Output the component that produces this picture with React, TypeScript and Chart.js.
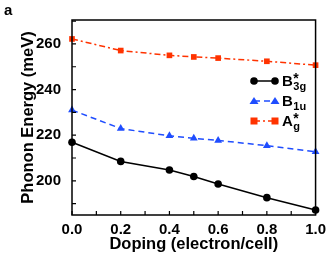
import React, { useEffect, useRef } from "react";
import { Chart, registerables } from "chart.js";
Chart.register(...registerables);

const doping = [0.0, 0.2, 0.4, 0.5, 0.6, 0.8, 1.0];
const b3g = [216.9, 208.5, 204.7, 201.9, 198.6, 192.6, 187.2];
const b1u = [231.0, 222.9, 219.7, 218.6, 217.7, 215.4, 212.7];
const ag = [262.2, 257.1, 255.0, 254.3, 253.8, 252.4, 250.7];

const xTicks = [0, 0.1, 0.2, 0.3, 0.4, 0.5, 0.6, 0.7, 0.8, 0.9, 1.0];
const yTicks = [190, 200, 210, 220, 230, 240, 250, 260, 270];
const yLabels = [200, 220, 240, 260];
const xLabels = [0, 0.2, 0.4, 0.6, 0.8, 1.0];

const FONT = "'Liberation Sans', Arial, sans-serif";
const BLACK = "#000000";
const BLUE = "#1f4dff";
const RED = "#ff3300";

const legendItems = [
  { base: "B", sub: "3g", star: true, color: BLACK, point: "circle", dash: [] as number[] },
  { base: "B", sub: "1u", star: false, color: BLUE, point: "triangle", dash: [6, 4] },
  { base: "A", sub: "g", star: true, color: RED, point: "rect", dash: [6, 3, 2, 3] },
];

const framePlugin = {
  id: "frame",
  afterDraw(chart: any) {
    const { ctx, chartArea: a, scales } = chart;
    ctx.save();
    ctx.strokeStyle = "#000";
    ctx.lineWidth = 1.5;
    ctx.strokeRect(a.left, a.top, a.right - a.left, a.bottom - a.top);
    ctx.lineWidth = 1.2;
    ctx.beginPath();
    for (const v of xTicks) {
      const x = scales.x.getPixelForValue(v);
      ctx.moveTo(x, a.bottom);
      ctx.lineTo(x, a.bottom - 4);
    }
    for (const v of yTicks) {
      const y = scales.y.getPixelForValue(v);
      ctx.moveTo(a.left, y);
      ctx.lineTo(a.left + 4, y);
    }
    ctx.stroke();
    // panel label
    ctx.fillStyle = "#000";
    ctx.font = `bold 15px ${FONT}`;
    ctx.textBaseline = "alphabetic";
    ctx.textAlign = "left";
    ctx.fillText("a", 4, 15);
    // legend
    const lx1 = 254, lx2 = 275, tx = 282;
    const ys = [81, 101, 121];
    legendItems.forEach((it, i) => {
      const y = ys[i];
      ctx.strokeStyle = it.color;
      ctx.fillStyle = it.color;
      ctx.lineWidth = 1.5;
      ctx.setLineDash(it.dash);
      ctx.beginPath();
      ctx.moveTo(lx1, y);
      ctx.lineTo(lx2, y);
      ctx.stroke();
      ctx.setLineDash([]);
      for (const px of [lx1, lx2]) {
        ctx.beginPath();
        if (it.point === "circle") {
          ctx.arc(px, y, 3.8, 0, Math.PI * 2);
        } else if (it.point === "triangle") {
          ctx.moveTo(px, y - 4);
          ctx.lineTo(px + 4.5, y + 3);
          ctx.lineTo(px - 4.5, y + 3);
          ctx.closePath();
        } else {
          ctx.rect(px - 3.5, y - 3.5, 7, 7);
        }
        ctx.fill();
      }
      ctx.fillStyle = "#000";
      ctx.font = `bold 15px ${FONT}`;
      ctx.fillText(it.base, tx, y + 5);
      const w = ctx.measureText(it.base).width;
      ctx.font = `bold 11px ${FONT}`;
      ctx.fillText(it.sub, tx + w + 0.5, y + 9);
      if (it.star) {
        ctx.font = `bold 14px ${FONT}`;
        ctx.fillText("*", tx + w + 0.5, y + 2);
      }
    });
    ctx.restore();
  },
};

export default function App() {
  const ref = useRef<HTMLCanvasElement>(null);
  useEffect(() => {
    if (!ref.current) return;
    const mk = (data: number[], color: string, style: string, dash: number[], r: number) => ({
      data: doping.map((d, i) => ({ x: d, y: data[i] })),
      borderColor: color,
      backgroundColor: color,
      pointStyle: style,
      pointRadius: r,
      pointBorderWidth: 0,
      borderWidth: 1.5,
      borderDash: dash,
      showLine: true,
      clip: false as any,
    });
    const chart = new Chart(ref.current, {
      type: "scatter",
      data: {
        datasets: [
          mk(b3g, BLACK, "circle", [], 3.8),
          mk(b1u, BLUE, "triangle", [6, 4], 4.5),
          mk(ag, RED, "rect", [6, 3, 2, 3], 4),
        ],
      },
      options: {
        responsive: false,
        animation: false,
        layout: { padding: { left: 0, right: 15, top: 11, bottom: 0 } },
        plugins: { legend: { display: false }, tooltip: { enabled: false } },
        scales: {
          x: {
            type: "linear",
            min: 0,
            max: 1,
            afterBuildTicks: (s: any) => {
              s.ticks = xLabels.map((v) => ({ value: v }));
            },
            afterFit: (s: any) => {
              s.height = 39;
            },
            grid: { display: false, drawTicks: false },
            border: { display: false },
            ticks: {
              color: "#000",
              padding: 6,
              font: { family: FONT, size: 15, weight: "bold" },
              callback: (v: any) => Number(v).toFixed(1),
              maxRotation: 0,
            },
            title: {
              display: true,
              text: "Doping (electron/cell)",
              color: "#000",
              font: { family: FONT, size: 16.5, weight: "bold" },
              padding: { top: -2, bottom: 0 },
            },
          },
          y: {
            type: "linear",
            min: 185,
            max: 270.5,
            afterBuildTicks: (s: any) => {
              s.ticks = yLabels.map((v) => ({ value: v }));
            },
            afterFit: (s: any) => {
              s.width = 72;
            },
            grid: { display: false, drawTicks: false },
            border: { display: false },
            ticks: {
              color: "#000",
              padding: 11,
              font: { family: FONT, size: 15, weight: "bold" },
            },
            title: {
              display: true,
              text: "Phonon Energy (meV)",
              color: "#000",
              font: { family: FONT, size: 16.5, weight: "bold" },
              padding: { top: 19, bottom: 0 },
            },
          },
        },
      },
      plugins: [framePlugin],
    } as any);
    return () => chart.destroy();
  }, []);
  return (
    <div style={{ position: "fixed", left: 0, top: 0, width: 332, height: 254, background: "#fff" }}>
      <canvas ref={ref} width={332} height={254} style={{ width: 332, height: 254 }} />
    </div>
  );
}
